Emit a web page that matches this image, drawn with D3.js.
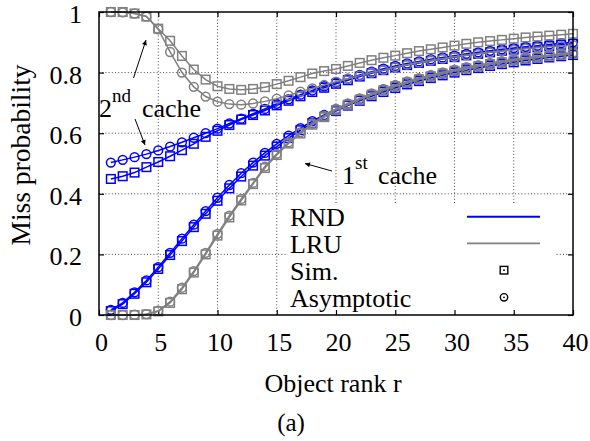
<!DOCTYPE html>
<html><head><meta charset="utf-8">
<script src="https://cdn.jsdelivr.net/npm/d3@7"></script>
<style>
body{margin:0;background:#fff}
svg{display:block}
</style>
</head><body>
<svg id="c" width="590" height="441" style="font-family:'Liberation Serif'"></svg>
<script>
// ---------- data ----------
const ranks = [1,2,3,4,5,6,7,8,9,10,11,12,13,14,15,16,17,18,19,20,21,22,23,24,25,26,27,28,29,30,31,32,33,34,35,36,37,38,39,40];
const xTicks = [0,5,10,15,20,25,30,35,40];
const yTicks = [0,0.2,0.4,0.6,0.8,1];
const yTickLabels = ["0","0.2","0.4","0.6","0.8","1"];

// 1st cache
const rnd1Sim  = [0.013,0.036,0.070,0.108,0.152,0.198,0.244,0.290,0.334,0.377,0.418,0.457,0.493,0.526,0.556,0.584,0.610,0.633,0.654,0.673,0.691,0.707,0.722,0.736,0.749,0.761,0.772,0.782,0.791,0.800,0.808,0.815,0.822,0.828,0.834,0.840,0.845,0.850,0.854,0.858];
const rnd1Asym = [0.017,0.040,0.075,0.114,0.158,0.205,0.252,0.298,0.343,0.387,0.429,0.468,0.503,0.535,0.565,0.592,0.617,0.640,0.660,0.679,0.697,0.713,0.728,0.742,0.755,0.767,0.778,0.788,0.797,0.806,0.814,0.821,0.828,0.834,0.840,0.845,0.850,0.855,0.859,0.863];
const lru1Sim  = [0.000,0.000,0.000,0.002,0.012,0.040,0.085,0.140,0.200,0.262,0.322,0.378,0.432,0.485,0.528,0.566,0.599,0.628,0.653,0.676,0.694,0.711,0.727,0.742,0.755,0.767,0.778,0.788,0.797,0.806,0.814,0.821,0.828,0.834,0.840,0.845,0.850,0.854,0.858,0.862];
const lru1Asym = [0.000,0.000,0.001,0.003,0.014,0.044,0.090,0.145,0.205,0.268,0.328,0.383,0.436,0.490,0.532,0.570,0.603,0.632,0.657,0.680,0.698,0.715,0.731,0.746,0.759,0.771,0.782,0.792,0.801,0.810,0.818,0.825,0.832,0.838,0.844,0.849,0.854,0.858,0.862,0.866];
// 2nd cache
const rnd2Sim  = [0.449,0.458,0.470,0.488,0.505,0.524,0.544,0.565,0.588,0.608,0.627,0.645,0.660,0.675,0.692,0.707,0.722,0.736,0.750,0.763,0.775,0.787,0.798,0.808,0.817,0.825,0.832,0.839,0.845,0.851,0.857,0.862,0.867,0.872,0.876,0.880,0.884,0.888,0.892,0.895];
const rnd2Asym = [0.503,0.512,0.521,0.531,0.543,0.556,0.570,0.585,0.600,0.615,0.632,0.648,0.664,0.680,0.697,0.712,0.727,0.741,0.755,0.768,0.780,0.792,0.803,0.813,0.822,0.830,0.837,0.844,0.850,0.856,0.862,0.867,0.872,0.877,0.881,0.885,0.889,0.893,0.897,0.900];
const lru2Sim  = [1.000,1.000,0.995,0.985,0.945,0.905,0.855,0.810,0.777,0.755,0.746,0.743,0.746,0.752,0.762,0.773,0.785,0.797,0.805,0.812,0.822,0.832,0.841,0.849,0.856,0.864,0.871,0.877,0.883,0.889,0.895,0.900,0.904,0.908,0.912,0.916,0.919,0.922,0.925,0.928];
const lru2Asym = [1.000,0.999,0.995,0.985,0.943,0.868,0.800,0.753,0.721,0.704,0.696,0.694,0.698,0.705,0.714,0.725,0.737,0.748,0.759,0.770,0.780,0.790,0.800,0.809,0.818,0.826,0.833,0.840,0.846,0.852,0.857,0.862,0.867,0.871,0.875,0.879,0.882,0.885,0.888,0.891];

const legendLabels = ["RND","LRU","Sim.","Asymptotic"];
const BLUE = "#0000ff", GRAY = "#808080";
const FONT = "Liberation Serif";

// ---------- layout ----------
const svg = d3.select("#c");
const x = d3.scaleLinear().domain([0,40]).range([99,573]);
const y = d3.scaleLinear().domain([0,1]).range([315,12]);
const FS = 26;

function txt(sel){ return sel.style("font-family",FONT).style("fill","#000"); }

// grid
const grid = svg.append("g").attr("stroke","#333").attr("stroke-width",0.9).attr("stroke-dasharray","1,2.2");
xTicks.filter(t=>t>0&&t<40).forEach(t=>{
  grid.append("line").attr("x1",x(t)).attr("x2",x(t)).attr("y1",y(0)).attr("y2",y(1));
});
yTicks.filter(t=>t>0&&t<1).forEach(t=>{
  grid.append("line").attr("x1",x(0)).attr("x2",x(40)).attr("y1",y(t)).attr("y2",y(t));
});

// legend opaque background
svg.append("rect").attr("x",288).attr("y",203).attr("width",268).attr("height",110).attr("fill","#fff");

// axes (ticks inward)
const axB = d3.axisBottom(x).tickValues(xTicks).tickSizeInner(-5).tickSizeOuter(0).tickPadding(17.5);
const axT = d3.axisTop(x).tickValues(xTicks).tickSizeInner(-5).tickSizeOuter(0).tickFormat("");
const axL = d3.axisLeft(y).tickValues(yTicks).tickSizeInner(-5).tickSizeOuter(0).tickPadding(17).tickFormat((d,i)=>yTickLabels[i]);
const axR = d3.axisRight(y).tickValues(yTicks).tickSizeInner(-5).tickSizeOuter(0).tickFormat("");
function style(g){
  g.attr("font-family",null).attr("font-size",null);
  g.select(".domain").remove();
  g.selectAll(".tick line").attr("stroke","#000").attr("stroke-width",1.2);
  txt(g.selectAll("text")).style("font-size",FS+"px");
}
svg.append("g").attr("transform",`translate(0,${y(0)})`).call(axB).call(style).selectAll("text").attr("dx",2);
svg.append("g").attr("transform",`translate(0,${y(1)})`).call(axT).call(style);
svg.append("g").attr("transform",`translate(${x(0)},0)`).call(axL).call(style).selectAll("text").attr("dy","0.4em");
svg.append("g").attr("transform",`translate(${x(40)},0)`).call(axR).call(style);

// series
const series = [
  {v:rnd1Sim, c:BLUE, m:"sq"},{v:rnd1Asym, c:BLUE, m:"ci"},
  {v:rnd2Sim, c:BLUE, m:"sq"},{v:rnd2Asym, c:BLUE, m:"ci"},
  {v:lru1Sim, c:GRAY, m:"sq"},{v:lru1Asym, c:GRAY, m:"ci"},
  {v:lru2Sim, c:GRAY, m:"sq"},{v:lru2Asym, c:GRAY, m:"ci"}
];
const line = d3.line().x((d,i)=>x(ranks[i])).y(d=>y(d));
const plot = svg.append("g");
series.forEach(s=>{
  const g = plot.append("g");
  g.append("path").datum(s.v).attr("d",line).attr("fill","none").attr("stroke",s.c).attr("stroke-width",1.5);
  if(s.m==="sq"){
    g.selectAll("rect").data(s.v).join("rect")
      .attr("x",(d,i)=>x(ranks[i])-4.3).attr("y",d=>y(d)-4.3).attr("width",8.6).attr("height",8.6)
      .attr("fill","none").attr("stroke",s.c).attr("stroke-width",1.5);
  } else {
    g.selectAll("circle").data(s.v).join("circle")
      .attr("cx",(d,i)=>x(ranks[i])).attr("cy",d=>y(d)).attr("r",4.4)
      .attr("fill","none").attr("stroke",s.c).attr("stroke-width",1.5);
  }
});

// frame
svg.append("rect").attr("x",x(0)).attr("y",y(1)).attr("width",x(40)-x(0)).attr("height",y(0)-y(1))
  .attr("fill","none").attr("stroke","#000").attr("stroke-width",1.5);

// legend
const lg = svg.append("g");
const rows = [216.7,243.3,270.2,297.3];
legendLabels.forEach((t,i)=>{
  txt(lg.append("text").attr("x",290).attr("y",rows[i]+9.5)).style("font-size",FS+"px").text(t);
});
lg.append("line").attr("x1",467).attr("x2",540).attr("y1",rows[0]).attr("y2",rows[0]).attr("stroke",BLUE).attr("stroke-width",2);
lg.append("line").attr("x1",467).attr("x2",540).attr("y1",rows[1]).attr("y2",rows[1]).attr("stroke",GRAY).attr("stroke-width",1.8);
lg.append("rect").attr("x",504-3.8).attr("y",rows[2]-3.8).attr("width",7.6).attr("height",7.6).attr("fill","none").attr("stroke","#000").attr("stroke-width",1.4);
lg.append("circle").attr("cx",504).attr("cy",rows[2]).attr("r",0.9).attr("fill","#000");
lg.append("circle").attr("cx",504).attr("cy",rows[3]).attr("r",3.7).attr("fill","none").attr("stroke","#000").attr("stroke-width",1.4);
lg.append("circle").attr("cx",504).attr("cy",rows[3]).attr("r",0.9).attr("fill","#000");

// axis titles
txt(svg.append("text").attr("x",333).attr("y",392).attr("text-anchor","middle")).style("font-size",FS+"px").text("Object rank r");
txt(svg.append("text").attr("transform","translate(30,155) rotate(-90)").attr("text-anchor","middle")).style("font-size","27.5px").text("Miss probability");
txt(svg.append("text").attr("x",291).attr("y",431).attr("text-anchor","middle")).style("font-size","25px").text("(a)");

// annotations
const defs = svg.append("defs");
defs.append("marker").attr("id","ah").attr("viewBox","0 0 10 10").attr("refX",10).attr("refY",5)
  .attr("markerWidth",9).attr("markerHeight",5).attr("markerUnits","userSpaceOnUse").attr("orient","auto")
  .append("path").attr("d","M0,0 L10,5 L0,10 Z").attr("fill","#000").attr("stroke","none");

const t2 = txt(svg.append("text").attr("x",99).attr("y",116.7)).style("font-size",FS+"px");
t2.append("tspan").text("2");
t2.append("tspan").style("font-size","19px").attr("dy",-15).text("nd");
t2.append("tspan").attr("x",142).attr("dy",15).text("cache");
svg.append("line").attr("x1",133.5).attr("y1",78).attr("x2",146).attr("y2",40).attr("stroke","#000").attr("stroke-width",1).attr("marker-end","url(#ah)");
svg.append("line").attr("x1",135).attr("y1",119).attr("x2",145).attr("y2",145).attr("stroke","#000").attr("stroke-width",1).attr("marker-end","url(#ah)");

const t1 = txt(svg.append("text").attr("x",342).attr("y",184)).style("font-size",FS+"px");
t1.append("tspan").text("1");
t1.append("tspan").style("font-size","19px").attr("dy",-15).text("st");
t1.append("tspan").attr("x",378).attr("dy",15).text("cache");
svg.append("line").attr("x1",332).attr("y1",171).attr("x2",305).attr("y2",163.5).attr("stroke","#000").attr("stroke-width",1).attr("marker-end","url(#ah)");
</script>
</body></html>
